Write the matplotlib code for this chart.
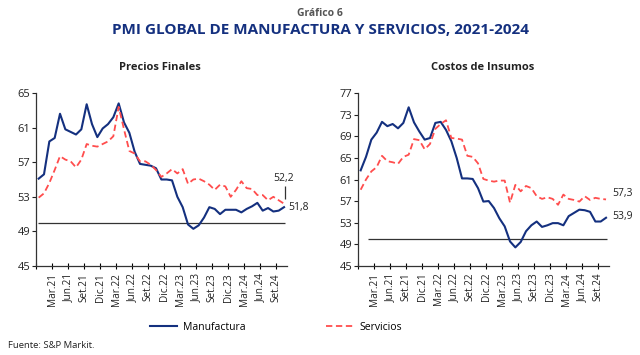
import numpy as np
import matplotlib
matplotlib.use("Agg")
import matplotlib.pyplot as plt

plt.rcParams['font.family'] = ['Open Sans', 'DejaVu Sans']

# Monthly data, Jan.21 - Nov.24
pf_manuf = [55.1, 55.6, 59.4, 59.8, 62.6, 60.8, 60.5, 60.2, 60.8, 63.7,
            61.4, 59.9, 60.9, 61.4, 62.2, 63.8, 61.6, 60.4, 58.2, 56.8,
            56.7, 56.6, 56.3, 55.0, 55.0, 54.9, 53.0, 51.8, 49.8, 49.3,
            49.7, 50.6, 51.8, 51.6, 51.0, 51.5, 51.5, 51.5, 51.2, 51.6,
            51.9, 52.3, 51.4, 51.7, 51.3, 51.4, 51.8]
pf_serv = [52.9, 53.4, 54.6, 56.1, 57.7, 57.3, 57.1, 56.4, 57.3, 59.1,
           58.9, 58.8, 59.1, 59.4, 60.0, 63.4, 60.8, 58.3, 58.0, 57.1,
           57.1, 56.7, 56.1, 55.3, 55.7, 56.2, 55.7, 56.2, 54.5, 55.0,
           55.1, 54.8, 54.4, 53.8, 54.4, 54.2, 53.0, 53.8, 54.8, 54.0,
           53.9, 53.2, 53.2, 52.6, 53.0, 52.6, 52.2]
ci_manuf = [62.7, 65.2, 68.4, 69.7, 71.7, 70.9, 71.3, 70.5, 71.5, 74.4,
            71.6, 69.9, 68.4, 68.7, 71.5, 71.7, 70.2, 68.1, 65.0, 61.2,
            61.2, 61.1, 59.4, 56.9, 57.0, 55.7, 53.8, 52.3, 49.5, 48.4,
            49.4, 51.4, 52.5, 53.2, 52.2, 52.5, 52.9, 52.9, 52.5, 54.2,
            54.8, 55.4, 55.3, 55.0, 53.2, 53.2, 53.9]
ci_serv = [59.1, 61.0, 62.5, 63.3, 65.4, 64.4, 64.2, 63.9, 65.2, 65.6,
           68.5, 68.3, 66.6, 67.6, 70.4, 71.3, 72.0, 68.7, 68.6, 68.4,
           65.4, 65.2, 64.0, 61.1, 60.8, 60.6, 60.8, 60.8, 56.7, 60.0,
           58.8, 59.8, 59.4, 57.9, 57.4, 57.7, 57.4, 56.3, 58.2, 57.4,
           57.2, 56.9, 57.9, 57.2, 57.6, 57.4, 57.3]
tick_labels = ['Mar.21', 'Jun.21', 'Set.21', 'Dic.21', 'Mar.22', 'Jun.22',
               'Set.22', 'Dic.22', 'Mar.23', 'Jun.23', 'Set.23', 'Dic.23',
               'Mar.24', 'Jun.24', 'Set.24']
pf_labels = ['52,2', '51,8']
ci_labels = ['57,3', '53,9']

BLUE = '#14307f'
RED = '#ff4d4d'
TXT = '#222222'

fig = plt.figure(figsize=(6.4, 3.55), dpi=100)
fig.patch.set_facecolor('white')

fig.text(0.5, 1 - 13 / 355, 'Gráfico 6', ha='center', va='center',
         fontsize=7.5, color='#555555', fontweight='bold')
fig.text(0.5, 1 - 30 / 355, 'PMI GLOBAL DE MANUFACTURA Y SERVICIOS, 2021-2024',
         ha='center', va='center', fontsize=11, color=BLUE, fontweight='bold')

n = len(pf_manuf)
x = np.arange(n) + 0.5

def setup(ax, ylo, yhi, title, cx):
    ax.set_xlim(0, n)
    ax.set_ylim(ylo, yhi)
    ax.set_yticks(np.arange(ylo, yhi + 1, 4))
    ax.set_xticks(np.arange(0, n + 1, 3)[:16])
    ax.set_xticklabels([''] + tick_labels, rotation=90, fontsize=7.2, color=TXT)
    for s in ['top', 'right']:
        ax.spines[s].set_visible(False)
    for s in ['left', 'bottom']:
        ax.spines[s].set_color('#333333')
        ax.spines[s].set_linewidth(0.9)
    ax.tick_params(axis='y', direction='out', length=3, width=0.8,
                   labelsize=8, colors=TXT, pad=1)
    ax.tick_params(axis='x', direction='inout', length=4, width=0.8, pad=3)
    fig.text(cx, 1 - 68 / 355, title, ha='center', va='center',
             fontsize=8, fontweight='bold', color=TXT)

ax1 = fig.add_axes([36 / 640, 89 / 355, 250.7 / 640, 173 / 355])
setup(ax1, 45, 65, 'Precios Finales', 160 / 640)
ax1.hlines(50, 0.4, 46.7, color='#333333', lw=0.9)
l1, = ax1.plot(x, pf_manuf, color=BLUE, lw=1.5, label='Manufactura')
l2, = ax1.plot(x, pf_serv, color=RED, lw=1.3, ls=(0, (3.5, 2)), label='Servicios')
ax1.text(x[-1], pf_serv[-1] + 2.9, pf_labels[0], fontsize=7.5,
         color=TXT, ha='center', va='center')
ax1.vlines(x[-1] + 0.2, pf_serv[-1] + 0.6, pf_serv[-1] + 2.0, color='#333333', lw=0.9)
ax1.text(x[-1] + 0.8, pf_manuf[-1], pf_labels[1], fontsize=7.5,
         color=TXT, ha='left', va='center')

ax2 = fig.add_axes([358 / 640, 89.3 / 355, 250.7 / 640, 172.4 / 355])
setup(ax2, 45, 77, 'Costos de Insumos', 483 / 640)
ax2.hlines(50, 1.9, 46.7, color='#333333', lw=0.9)
ax2.plot(x, ci_manuf, color=BLUE, lw=1.5)
ax2.plot(x, ci_serv, color=RED, lw=1.3, ls=(0, (3.5, 2)))
ax2.text(x[-1] + 1.1, ci_serv[-1] + 1.1, ci_labels[0], fontsize=7.5,
         color=TXT, ha='left', va='center')
ax2.text(x[-1] + 1.1, ci_manuf[-1] + 0.25, ci_labels[1], fontsize=7.5,
         color=TXT, ha='left', va='center')

# legend
fig.legend(handles=[l1], loc='center left', bbox_to_anchor=(150 / 640, 1 - 327 / 355),
           frameon=False, fontsize=7.5, handlelength=2.6, handletextpad=0.6,
           borderaxespad=0, borderpad=0)
fig.legend(handles=[l2], loc='center left', bbox_to_anchor=(326 / 640, 1 - 327 / 355),
           frameon=False, fontsize=7.5, handlelength=2.6, handletextpad=0.6,
           borderaxespad=0, borderpad=0)

fig.text(8 / 640, 1 - 345 / 355, 'Fuente: S&P Markit.', ha='left', va='center',
         fontsize=6.8, color=TXT)

fig.savefig('out.png', dpi=100, facecolor='white')
